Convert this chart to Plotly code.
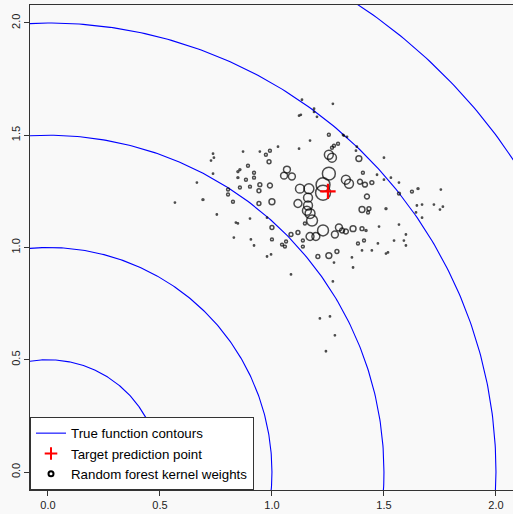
import numpy as np
import plotly.graph_objects as go

# ---------------- data ----------------
contour_radii = [0.5, 1.0, 1.5, 2.0, 2.5]

target_x = [1.25]
target_y = [1.25]

# random forest kernel weights (x, y, weight ~ marker diameter)
pt_x = [
    1.134, 1.272, 1.188, 1.188, 1.201, 1.121, 1.129, 1.170, 1.317, 1.321,
    1.335, 1.027, 1.121, 0.946, 0.871, 0.737, 0.741, 0.728, 0.737, 0.665,
    0.567, 0.754, 0.902, 0.839, 0.848, 0.830, 0.906, 0.920, 0.978, 0.996,
    1.277, 1.357, 1.362, 1.379, 1.375, 1.500, 1.469, 1.500, 1.531, 1.567,
    1.754, 1.647, 1.670, 1.643, 1.723, 1.763, 1.750, 1.670, 1.478, 1.567,
    1.598, 1.589, 1.598, 1.545, 1.473, 1.446, 1.509, 1.518, 1.402, 1.085,
    1.272, 1.214, 1.259, 1.281, 1.241, 0.978,
    1.254, 1.295, 1.277, 1.268, 0.991, 0.973, 0.987, 0.893, 0.857, 0.848,
    0.920, 0.920, 0.848, 0.884, 0.857, 0.902, 0.946, 0.942, 0.991, 0.804,
    0.804, 0.826, 0.692, 0.942, 1.000, 1.406, 1.446, 1.424, 1.567, 1.625,
    1.652, 1.388, 1.402, 1.433, 1.429, 1.509, 1.000, 1.085, 1.116, 1.147,
    1.000, 1.045, 1.063, 1.058, 1.138, 1.138, 1.205, 1.254, 1.290, 1.411,
    1.384, 1.402, 1.420, 1.362,
    1.254, 1.268, 1.067, 1.054, 1.089, 1.254, 1.330, 1.344, 1.393, 1.415,
    1.125, 1.165, 1.228, 1.228, 1.161, 1.161, 1.116, 1.156, 1.170, 1.179,
    1.228, 1.170, 1.196, 1.299, 1.281, 1.313, 1.330,
]
pt_y = [
    1.658, 1.640, 1.618, 1.604, 1.582, 1.587, 1.591, 1.476, 1.502, 1.498,
    1.493, 1.449, 1.440, 1.427, 1.427, 1.418, 1.400, 1.387, 1.329, 1.289,
    1.200, 1.147, 1.129, 1.111, 1.107, 1.044, 1.036, 1.009, 0.960, 0.969,
    0.933, 0.956, 0.911, 1.449, 1.431, 1.400, 1.324, 1.302, 1.311, 1.289,
    1.258, 1.187, 1.191, 1.156, 1.191, 1.182, 1.169, 1.133, 1.093, 1.102,
    1.058, 1.031, 1.009, 1.031, 1.018, 0.987, 0.973, 0.978, 0.987, 0.880,
    0.849, 0.684, 0.693, 0.609, 0.538, 1.133,
    1.502, 1.462, 1.453, 1.444, 1.431, 1.413, 1.382, 1.364, 1.347, 1.338,
    1.333, 1.311, 1.311, 1.302, 1.267, 1.271, 1.280, 1.253, 1.276, 1.258,
    1.236, 1.204, 1.213, 1.196, 1.204, 1.333, 1.289, 1.227, 1.240, 1.249,
    1.262, 1.396, 1.169, 1.173, 1.156, 1.173, 1.089, 1.058, 1.067, 1.107,
    1.036, 1.013, 1.027, 1.004, 1.031, 1.004, 0.960, 0.964, 0.982, 1.031,
    1.018, 1.084, 1.076, 1.084,
    1.413, 1.400, 1.347, 1.320, 1.316, 1.329, 1.302, 1.284, 1.293, 1.280,
    1.262, 1.262, 1.280, 1.244, 1.222, 1.187, 1.196, 1.164, 1.151, 1.120,
    1.076, 1.049, 1.049, 1.089, 1.058, 1.076, 1.071,
]
pt_w = [
    2, 2, 2, 2, 2, 2, 2, 2, 2, 2,
    2, 1.5, 2, 2, 1.5, 2, 2, 2, 2, 2,
    2, 1.5, 2, 1.5, 1.5, 1.5, 1.5, 2, 1.5, 1.5,
    2, 2, 2, 2, 2, 1.5, 2, 2, 2, 2,
    2, 2, 2, 2, 2, 1.5, 1.5, 1.5, 2, 2,
    2, 2, 2, 2, 1.5, 1.5, 1.5, 1.5, 2, 2,
    2, 2, 2, 2, 2, 2,
    4, 4, 4, 4, 4, 4, 5, 4, 3, 3,
    4, 4, 3, 4, 4, 4, 5, 5, 6, 4,
    4, 4, 3, 5, 7, 4, 5, 6, 4, 4,
    3, 7, 7, 5, 4, 3, 5, 5, 5, 4,
    4, 4, 4, 4, 4, 4, 5, 7, 5, 4,
    4, 5, 3, 7,
    10, 10, 8, 8, 8, 14, 10, 10, 6, 6,
    10, 11, 15, 16, 10, 10, 9, 10, 11, 12,
    12, 9, 9, 8, 8, 6, 6,
]

tick_vals = [0.0, 0.5, 1.0, 1.5, 2.0]
tick_text = ["0.0", "0.5", "1.0", "1.5", "2.0"]

# ---------------- figure ----------------
FONT = "Liberation Sans, Arial, Helvetica, sans-serif"
fig = go.Figure()

theta = np.linspace(0, 2 * np.pi, 721)
for i, r in enumerate(contour_radii):
    fig.add_trace(go.Scatter(
        x=r * np.cos(theta), y=r * np.sin(theta), mode="lines",
        line=dict(color="#0000FF", width=1.1), hoverinfo="skip",
        showlegend=False,
    ))

sizes = [max(w - 1.1, 1.3) for w in pt_w]
fig.add_trace(go.Scatter(
    x=pt_x, y=pt_y, mode="markers",
    marker=dict(symbol="circle-open", size=sizes, color="black",
                line=dict(color="black", width=1.5)),
    showlegend=False,
))

fig.add_trace(go.Scatter(
    x=target_x, y=target_y, mode="markers",
    marker=dict(symbol="cross-thin", size=11, color="#FF0000",
                line=dict(color="#FF0000", width=2.2)),
    showlegend=False,
))

# legend entries
fig.add_trace(go.Scatter(
    x=[None], y=[None], mode="lines", name="True function contours",
    line=dict(color="#0000FF", width=1.1),
))
fig.add_trace(go.Scatter(
    x=[None], y=[None], mode="markers", name="Target prediction point",
    marker=dict(symbol="cross-thin", size=9, color="#FF0000",
                line=dict(color="#FF0000", width=2)),
))
fig.add_trace(go.Scatter(
    x=[None], y=[None], mode="markers", name="Random forest kernel weights",
    marker=dict(symbol="circle-open", size=5, color="black",
                line=dict(color="black", width=2)),
))

axis_common = dict(
    tickvals=tick_vals, ticktext=tick_text, ticks="outside", ticklen=5,
    tickcolor="#333333", tickwidth=1, showline=True, linecolor="#333333",
    linewidth=1, showgrid=False, zeroline=False,
    tickfont=dict(family=FONT, size=11, color="#222222"),
)
fig.update_xaxes(range=[-0.08, 2.076], mirror=True, **axis_common)
fig.update_yaxes(range=[-0.08, 2.08], mirror=False, tickangle=-90,
                 **axis_common)

fig.update_layout(
    width=513, height=514,
    margin=dict(l=30, r=0, t=5, b=24),
    paper_bgcolor="#f9f9f9", plot_bgcolor="#f9f9f9",
    font=dict(family=FONT, size=13, color="black"),
    legend=dict(
        x=0, y=0, xanchor="left", yanchor="bottom",
        bgcolor="white", bordercolor="#333333", borderwidth=1,
        font=dict(family=FONT, size=13.3, color="black"),
        tracegroupgap=0,
    ),
)

fig.write_html("out.html")
